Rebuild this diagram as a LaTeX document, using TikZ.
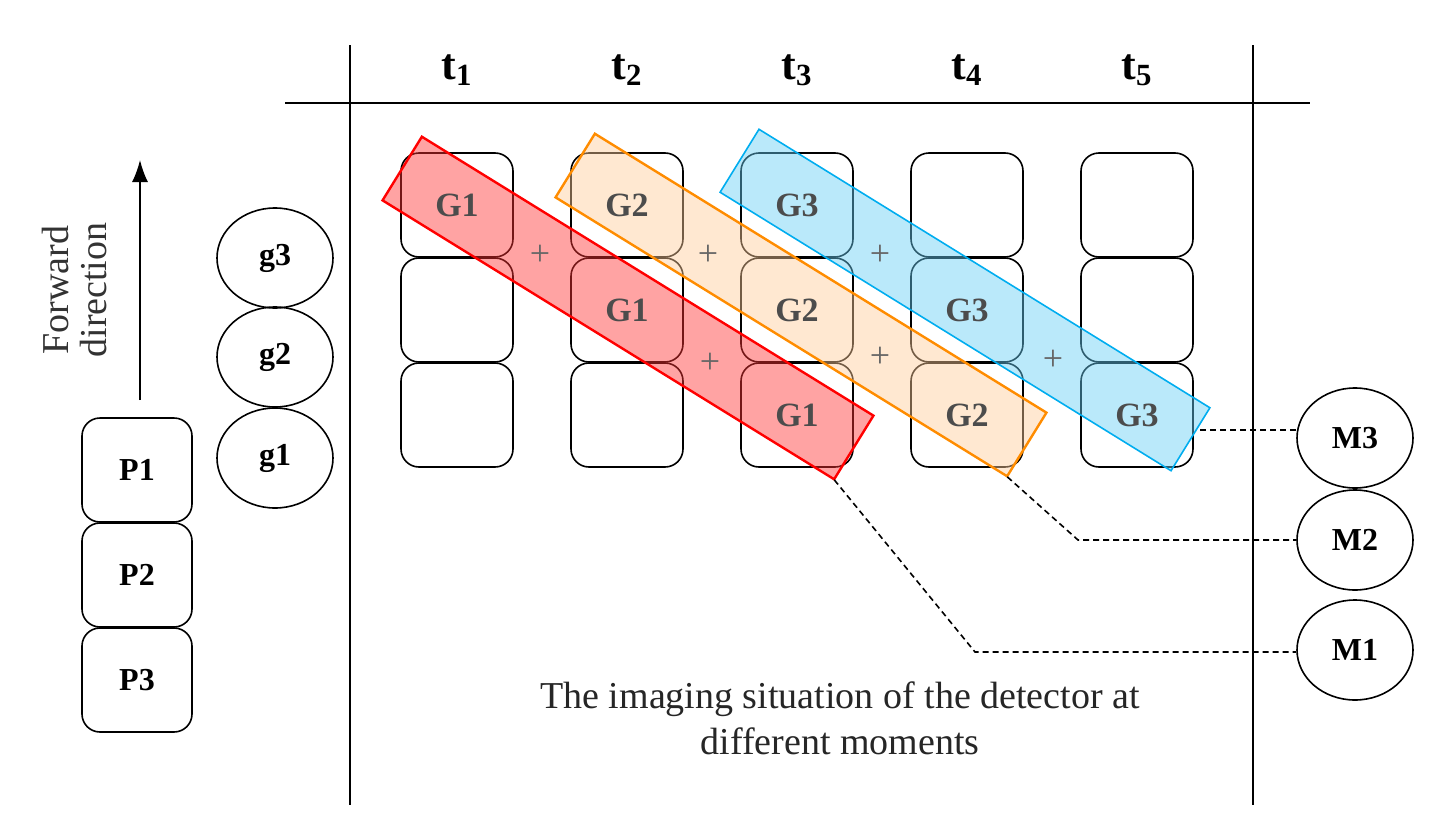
\documentclass[tikz,border=0pt]{standalone}
\usepackage{fontspec}
\setmainfont{Liberation Serif}
\usetikzlibrary{positioning,shapes.geometric,arrows.meta}
\tikzset{
  cell/.style={draw,thick,rounded corners=9pt,minimum width=56pt,minimum height=52pt},
  circ/.style={draw,thick,ellipse,minimum width=58pt,minimum height=50pt,font=\fontsize{16}{16}\selectfont\bfseries},
  pbox/.style={draw,thick,rounded corners=9pt,minimum width=55pt,minimum height=52pt,font=\fontsize{16}{16}\selectfont\bfseries},
  lab/.style={font=\fontsize{17}{17}\selectfont\bfseries,text=black!70},
  band/.style={draw,thick,minimum width=265pt,minimum height=37pt,rotate=-31.7,fill opacity=0.45},
  plus/.style={font=\fontsize{18}{18}\selectfont,text=black!60},
  con/.style={densely dashed,thick}
}
\begin{document}
\begin{tikzpicture}[x=0.5pt,y=-0.5pt]
\useasboundingbox (0,0) rectangle (1440,830);
% frame
\draw[thick] (350,45) -- (350,805);
\draw[thick] (1253,45) -- (1253,805);
\draw[thick] (285,103) -- (1310,103);
\foreach \i/\x in {1/457,2/627,3/797,4/967,5/1137}{
  \node[font=\fontsize{22}{22}\selectfont\bfseries] at (\x,70) {t$_{\mathbf{\i}}$};
  \foreach \r/\y in {1/205,2/310,3/415}
    \node[cell] (c\i\r) at (\x,\y) {};
}
% bands
\node[band,fill=red!80,draw=red] (bR) at (628,308) {};
\node[band,fill=orange!40,draw=orange!90!yellow] (bO) at (801,305) {};
\node[band,fill=cyan!60,draw=cyan] (bB) at (965,300) {};
\draw[red,thick] (bR.north west) -- (bR.north east) -- (bR.south east) -- (bR.south west) -- cycle;
\draw[orange!90!yellow,thick] (bO.north west) -- (bO.north east) -- (bO.south east) -- (bO.south west) -- cycle;
% cell labels
\node[lab] at (c11) {G1};
\node[lab] at (c21) {G2};
\node[lab] at (c22) {G1};
\node[lab] at (c31) {G3};
\node[lab] at (c32) {G2};
\node[lab] at (c33) {G1};
\node[lab] at (c42) {G3};
\node[lab] at (c43) {G2};
\node[lab] at (c53) {G3};
\foreach \x/\y in {540/255,708/255,880/255,710/363,880/357,1053/360}
  \node[plus] at (\x,\y) {+};
% g circles
\node[circ] (g3) at (275,258) {g3};
\node[circ] (g2) at (275,357) {g2};
\node[circ] (g1) at (275,458) {g1};
% P boxes
\node[pbox] (p1) at (137,470) {P1};
\node[pbox] (p2) at (137,575) {P2};
\node[pbox] (p3) at (137,680) {P3};
\coordinate (a0) at (140,400);
\coordinate (a1) at (140,160);
\draw[thick,-{Latex[length=11pt,width=8pt]}] (a0) -- (a1);
\node[rotate=90,font=\fontsize{19}{19}\selectfont,text=black!80,align=center] (fd) at (75,290) {Forward\\direction};
% M circles
\node[circ] (m3) at (1355,438) {M3};
\node[circ] (m2) at (1355,540) {M2};
\node[circ] (m1) at (1355,650) {M1};
\coordinate (b3) at (1200,430);
\draw[con] (b3) -- (m3.west |- b3);
\coordinate (k2) at (1078,540);
\draw[con] (bO.south east) -- (k2) -- (m2);
\coordinate (k1) at (975,652);
\draw[con] (bR.south east) -- (k1) -- (m1.west |- k1);
% caption
\node[font=\fontsize{19}{23}\selectfont,text=black!85,align=center] (cap) at (840,718)
  {The imaging situation of the detector at\\different moments};
\end{tikzpicture}
\end{document}
